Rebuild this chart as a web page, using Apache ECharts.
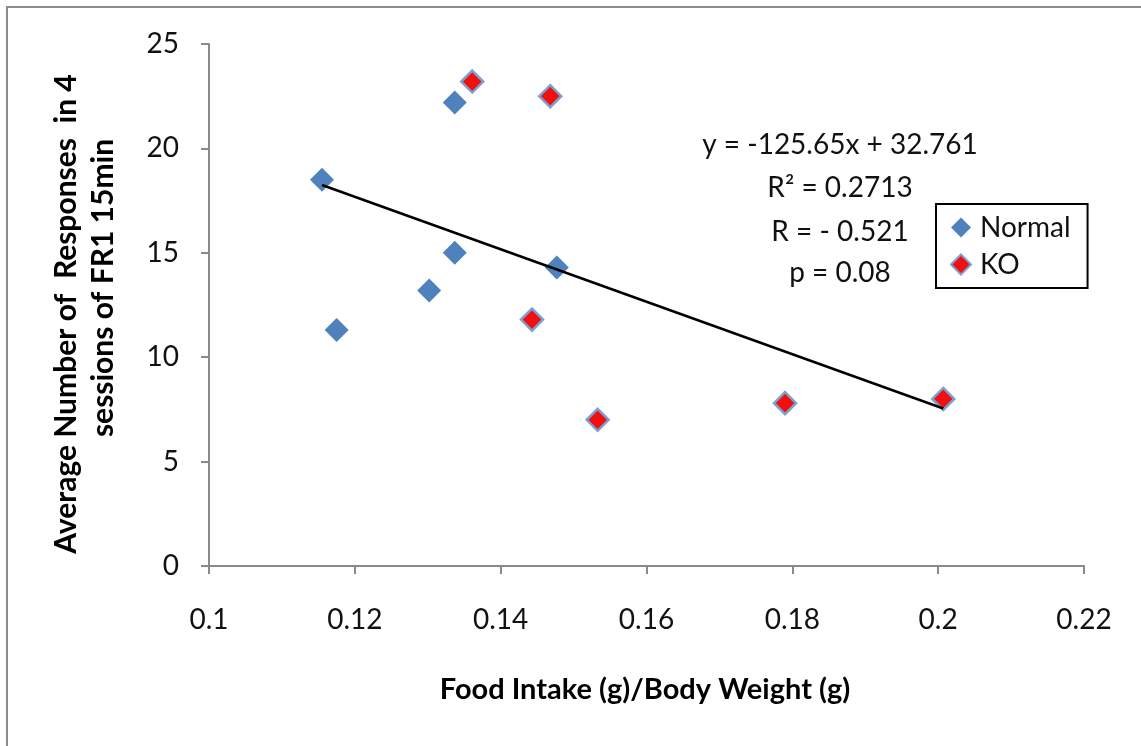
<!DOCTYPE html>
<html><head><meta charset="utf-8">
<script src="https://cdn.jsdelivr.net/npm/echarts@6.0.0/dist/echarts.min.js"></script>
<style>html,body{margin:0;padding:0;background:#fff}#c{width:1141px;height:746px}</style>
</head><body><div id="c"></div>
<script>
// ---- data ----
const normalX = [0.1155, 0.1175, 0.1302, 0.1337, 0.1337, 0.1477];
const normalY = [18.5, 11.3, 13.2, 15.0, 22.2, 14.3];
const koX = [0.1361, 0.1468, 0.1443, 0.1533, 0.1790, 0.2007];
const koY = [23.2, 22.5, 11.8, 7.0, 7.8, 8.0];
const trendSlope = -125.65;
const trendIntercept = 32.761;
const seriesNames = ['Normal', 'KO'];
const xTickLabels = ['0.1', '0.12', '0.14', '0.16', '0.18', '0.2', '0.22'];
const yTickLabels = ['0', '5', '10', '15', '20', '25'];
const statsLines = ['y = -125.65x + 32.761', 'R\u00B2 = 0.2713', 'R = - 0.521', 'p = 0.08'];
const xTitle = 'Food Intake (g)/Body Weight (g)';
const yTitleLines = ['Average Number of  Responses  in 4', 'sessions of FR1 15min'];

// ---- build ----
const FONT = 'Lato';
const allX = normalX.concat(koX);
const xMin = Math.min(...allX), xMax = Math.max(...allX);
const trend = [[xMin, trendIntercept + trendSlope * xMin], [xMax, trendIntercept + trendSlope * xMax]];
const zip = (a, b) => a.map((v, i) => [v, b[i]]);

const chart = echarts.init(document.getElementById('c'), null, {renderer: 'canvas'});
const axisGray = '#8a8a8a';
const statsY = [145, 188, 232, 273];

chart.setOption({
  backgroundColor: '#fff',
  animation: false,
  grid: {left: 209, right: 57, top: 44, bottom: 180},
  xAxis: {
    type: 'value', min: 0.1, max: 0.22, interval: 0.02,
    splitLine: {show: false},
    axisLine: {show: true, onZero: false, lineStyle: {color: axisGray, width: 2}},
    axisTick: {show: true, length: 8, lineStyle: {color: axisGray, width: 2}},
    axisLabel: {margin: 40, fontFamily: FONT, fontSize: 28, color: '#111',
      formatter: v => xTickLabels[Math.round((v - 0.1) / 0.02)] ?? ''}
  },
  yAxis: {
    type: 'value', min: 0, max: 25, interval: 5,
    splitLine: {show: false},
    axisLine: {show: true, onZero: false, lineStyle: {color: axisGray, width: 2}},
    axisTick: {show: true, length: 8, lineStyle: {color: axisGray, width: 2}},
    axisLabel: {margin: 30, fontFamily: FONT, fontSize: 28, color: '#111',
      formatter: v => yTickLabels[Math.round(v / 5)] ?? ''}
  },
  legend: {
    data: seriesNames,
    orient: 'vertical',
    left: 936, top: 204,
    padding: [8, 17, 8, 14],
    itemGap: 6,
    itemWidth: 20, itemHeight: 20,
    borderColor: '#000', borderWidth: 2,
    backgroundColor: '#fff',
    textStyle: {fontFamily: FONT, fontSize: 28, color: '#111', lineHeight: 31, padding: [0, 0, 0, 4]}
  },
  series: [
    {
      name: seriesNames[0], type: 'scatter', symbol: 'diamond', symbolSize: 24,
      itemStyle: {color: '#4F81BD', opacity: 1},
      data: zip(normalX, normalY), z: 3
    },
    {
      name: seriesNames[1], type: 'scatter', symbol: 'diamond', symbolSize: 22,
      itemStyle: {color: '#F01010', borderColor: '#7AA0D0', borderWidth: 2.5, opacity: 1},
      data: zip(koX, koY), z: 4
    },
    {
      name: 'trend', type: 'line', data: trend, showSymbol: false, symbol: 'none',
      lineStyle: {color: '#000', width: 2.5}, silent: true, z: 5
    }
  ],
  graphic: [
    {type: 'rect', shape: {x: 7, y: 7, width: 1200, height: 800}, style: {fill: 'none', stroke: '#8c8c8c', lineWidth: 2}, silent: true, z: -1},
    ...statsLines.map((t, i) => ({
      type: 'text', x: 840, y: statsY[i],
      style: {text: t, fontFamily: FONT, fontSize: 28, fill: '#111', align: 'center', verticalAlign: 'middle'}
    })),
    {type: 'text', x: 645, y: 690,
      style: {text: xTitle, fontFamily: FONT, fontSize: 29, fontWeight: 'bold', fill: '#000', align: 'center', verticalAlign: 'middle'}},
    {type: 'text', x: 66, y: 314, rotation: Math.PI / 2,
      style: {text: yTitleLines[0], fontFamily: FONT, fontSize: 30, fontWeight: 'bold', fill: '#000', align: 'center', verticalAlign: 'middle'}},
    {type: 'text', x: 103, y: 288, rotation: Math.PI / 2,
      style: {text: yTitleLines[1], fontFamily: FONT, fontSize: 30, fontWeight: 'bold', fill: '#000', align: 'center', verticalAlign: 'middle'}}
  ]
});
</script></body></html>
